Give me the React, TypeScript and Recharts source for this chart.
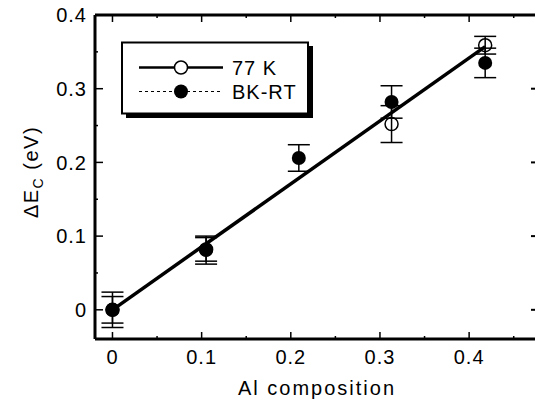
import React from "react"
import { ScatterChart, Scatter, XAxis, YAxis, ErrorBar } from "recharts"

const FONT = "'Liberation Sans', Arial, Helvetica, sans-serif"

// Al composition
const x77 = [0, 0.105, 0.313, 0.418]
const y77 = [0, 0.082, 0.252, 0.359]
const e77 = [0.024, 0.016, 0.025, 0.012]

const xRT = [0, 0.105, 0.209, 0.313, 0.418]
const yRT = [0, 0.081, 0.206, 0.282, 0.335]
const eRT = [0.018, 0.019, 0.018, 0.022, 0.02]

// linear fit
const fitX = [0, 0.418]
const fitY = [0, 0.357]

const xTicks = [0, 0.05, 0.1, 0.15, 0.2, 0.25, 0.3, 0.35, 0.4, 0.45]
const yTicks = [0, 0.05, 0.1, 0.15, 0.2, 0.25, 0.3, 0.35, 0.4]
const yRightTicks = [0, 0.1, 0.2, 0.3]

const data77 = x77.map((x, i) => ({ x, y: y77[i], err: e77[i] }))
const dataRT = xRT.map((x, i) => ({ x, y: yRT[i], err: eRT[i] }))
const fitData = fitX.map((x, i) => ({ x, y: fitY[i] }))

const isMajor = (v: number) => Math.round(v * 100) % 10 === 0
const fmt = (v: number) => (v === 0 ? "0" : v.toFixed(1))

const BottomTick = (props: any) => {
  const { x, y, payload } = props
  const major = isMajor(payload.value)
  return (
    <g>
      <line x1={x} x2={x} y1={y} y2={y - (major ? 7 : 3)} stroke="#000" strokeWidth={1.5} />
      {major && (
        <text x={x} y={y + 25} textAnchor="middle" fontFamily={FONT} fontSize={20} letterSpacing={1} fill="#000">
          {fmt(payload.value)}
        </text>
      )}
    </g>
  )
}

const TopTick = (props: any) => {
  const { x, y, payload } = props
  const major = isMajor(payload.value)
  return <line x1={x} x2={x} y1={y} y2={y + (major ? 7 : 3)} stroke="#000" strokeWidth={1.5} />
}

const LeftTick = (props: any) => {
  const { x, y, payload } = props
  const major = isMajor(payload.value)
  return (
    <g>
      <line x1={x} x2={x + (major ? 8 : 3)} y1={y} y2={y} stroke="#000" strokeWidth={1.5} />
      {major && (
        <text x={x - 8} y={y} dy="0.36em" textAnchor="end" fontFamily={FONT} fontSize={20} letterSpacing={1} fill="#000">
          {fmt(payload.value)}
        </text>
      )}
    </g>
  )
}

const RightTick = (props: any) => {
  const { x, y } = props
  return <line x1={x} x2={x - 5} y1={y} y2={y} stroke="#000" strokeWidth={2} />
}

const YTitle = () => (
  <text
    x={38}
    y={172}
    transform="rotate(-90, 38, 172)"
    textAnchor="middle"
    fontFamily={FONT}
    fontSize={20}
    letterSpacing={1.5}
    fill="#000"
  >
    ΔE
    <tspan fontSize={14} dy={5}>C</tspan>
    <tspan dy={-5}> (eV)</tspan>
  </text>
)

const XTitle = () => (
  <text x={317} y={395} textAnchor="middle" fontFamily={FONT} fontSize={20} letterSpacing={2} fill="#000">
    Al composition
  </text>
)

const FilledDot = (props: any) => <circle cx={props.cx} cy={props.cy} r={7} fill="#000" />
const OpenDot = (props: any) => (
  <circle cx={props.cx} cy={props.cy} r={6.5} fill="none" stroke="#000" strokeWidth={1.5} />
)
const NoDot = () => <g />

const LegendBox = () => (
  <svg width={195} height={80} style={{ position: "absolute", left: 121, top: 41 }}>
    <rect x={5} y={5} width={187} height={72} fill="#000" />
    <rect x={1} y={1.5} width={186} height={71} fill="#fff" stroke="#000" strokeWidth={2} />
    <line x1={18} x2={102} y1={26.5} y2={26.5} stroke="#000" strokeWidth={2.5} />
    <circle cx={60} cy={26.5} r={6.5} fill="#fff" stroke="#000" strokeWidth={1.5} />
    <text x={111} y={26.5} dy="0.36em" fontFamily={FONT} fontSize={20} letterSpacing={1} fill="#000">
      77 K
    </text>
    <line x1={18} x2={102} y1={50.5} y2={50.5} stroke="#000" strokeWidth={1.2} strokeDasharray="3 3" />
    <circle cx={60} cy={50.5} r={7} fill="#000" />
    <text x={111} y={50.5} dy="0.36em" fontFamily={FONT} fontSize={20} letterSpacing={1} fill="#000">
      BK-RT
    </text>
  </svg>
)

export default function App() {
  const xDomain = [-0.0196, 0.475]
  const yDomain = [-0.0396, 0.4]
  return (
    <div style={{ position: "absolute", left: 0, top: 0, width: 535, height: 405, overflow: "hidden", background: "#fff" }}>
      <ScatterChart width={550} height={405} margin={{ top: 5, right: 4, bottom: 0, left: 0 }}>
        <XAxis
          xAxisId="bottom"
          type="number"
          dataKey="x"
          orientation="bottom"
          domain={xDomain}
          allowDataOverflow
          ticks={xTicks}
          interval={0}
          height={66}
          tickSize={0}
          tickMargin={0}
          tickLine={false}
          axisLine={{ stroke: "#000", strokeWidth: 3 }}
          tick={<BottomTick />}
          label={<XTitle />}
        />
        <XAxis
          xAxisId="top"
          type="number"
          dataKey="x"
          orientation="top"
          domain={xDomain}
          allowDataOverflow
          ticks={xTicks}
          interval={0}
          height={10}
          tickSize={0}
          tickMargin={0}
          tickLine={false}
          axisLine={{ stroke: "#000", strokeWidth: 3 }}
          tick={<TopTick />}
        />
        <YAxis
          yAxisId="left"
          type="number"
          dataKey="y"
          orientation="left"
          domain={yDomain}
          allowDataOverflow
          ticks={yTicks}
          interval={0}
          width={95}
          tickSize={0}
          tickMargin={0}
          tickLine={false}
          axisLine={{ stroke: "#000", strokeWidth: 3 }}
          tick={<LeftTick />}
          label={<YTitle />}
        />
        <YAxis
          yAxisId="right"
          type="number"
          dataKey="y"
          orientation="right"
          domain={yDomain}
          allowDataOverflow
          ticks={yRightTicks}
          interval={0}
          width={10}
          tickSize={0}
          tickMargin={0}
          tickLine={false}
          axisLine={false}
          tick={<RightTick />}
        />
        <Scatter
          name="fit-top"
          data={fitData}
          xAxisId="top"
          yAxisId="right"
          shape={NoDot}
          legendType="none"
          isAnimationActive={false}
        />
        <Scatter
          name="fit"
          data={fitData}
          xAxisId="bottom"
          yAxisId="left"
          line={{ stroke: "#000", strokeWidth: 3.5 }}
          shape={NoDot}
          legendType="none"
          isAnimationActive={false}
        />
        <Scatter
          name="77 K"
          data={data77}
          xAxisId="bottom"
          yAxisId="left"
          shape={OpenDot}
          isAnimationActive={false}
        >
          <ErrorBar dataKey="err" direction="y" width={11} stroke="#000" strokeWidth={1.5} isAnimationActive={false} />
        </Scatter>
        <Scatter
          name="BK-RT"
          data={dataRT}
          xAxisId="bottom"
          yAxisId="left"
          shape={FilledDot}
          isAnimationActive={false}
        >
          <ErrorBar dataKey="err" direction="y" width={11} stroke="#000" strokeWidth={1.5} isAnimationActive={false} />
        </Scatter>
      </ScatterChart>
      <LegendBox />
    </div>
  )
}
